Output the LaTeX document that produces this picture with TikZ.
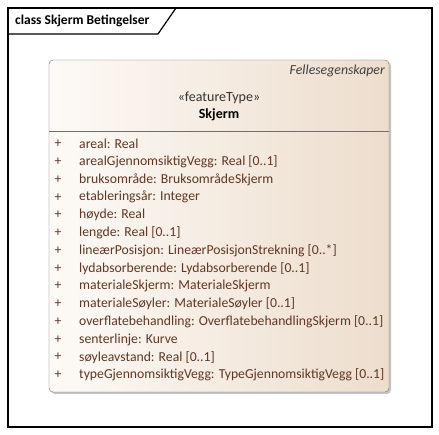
\documentclass[tikz,border=0pt]{standalone}
\usepackage{fontspec}
\setmainfont{Carlito}
\usetikzlibrary{positioning}
\tikzset{attr/.style = {anchor=west, inner sep=0, text=fbrown, font=\fontsize{13.7}{15}\selectfont}}
\tikzset{plus/.style = {inner sep=0, text=fbrown, font=\fontsize{13.7}{15}\selectfont}}
\definecolor{fbrown}{RGB}{95,55,35}
\definecolor{fcream}{RGB}{253,250,246}
\definecolor{fbeige}{RGB}{237,221,205}
\definecolor{fgray}{RGB}{110,110,110}

\begin{document}
\begin{tikzpicture}[x=1pt, y=-1pt]
      \useasboundingbox (0,0) rectangle (439,435);
      \fill [white] (0,0) rectangle (439,435);

      % frame
      \draw [line width=1.2pt] (8,8) rectangle (432,427);
      \draw [line width=1.2pt] (8,34) -- (158,34) -- (176,8);
      \node [anchor=west, inner sep=0, font=\bfseries\fontsize{13.5}{15}\selectfont] (title) at (15,21) {class Skjerm Betingelser};

      % class box
      \fill [gray!45, rounded corners=4pt] (51,62) rectangle (391,394);
      \shade [left color=fcream, right color=fbeige, draw=fgray, rounded corners=4pt] (49,60) rectangle (389,392);
      \draw [fgray] (49,131) -- (389,131);

      \node [anchor=east, inner sep=0, text=black!75, font=\itshape\fontsize{13.8}{15}\selectfont] (parent) at (385,71) {Fellesegenskaper};
      \node [inner sep=0, text=black!80, font=\fontsize{14}{15}\selectfont] (stereo) at (219,98) {«featureType»};
      \node [inner sep=0, font=\bfseries\fontsize{14}{15}\selectfont, below=4pt of stereo] (name) {Skjerm};

      \foreach \t [count=\i] in {
          areal: Real,
          arealGjennomsiktigVegg: Real [0..1],
          bruksområde: BruksområdeSkjerm,
          etableringsår: Integer,
          høyde: Real,
          lengde: Real [0..1],
          lineærPosisjon: LineærPosisjonStrekning [0..*],
          lydabsorberende: Lydabsorberende [0..1],
          materialeSkjerm: MaterialeSkjerm,
          materialeSøyler: MaterialeSøyler [0..1],
          overflatebehandling: OverflatebehandlingSkjerm [0..1],
          senterlinje: Kurve,
          søyleavstand: Real [0..1],
          typeGjennomsiktigVegg: TypeGjennomsiktigVegg [0..1]} {
        \node [plus] (p\i) at (58,126.2+17.77*\i) {+};
        \node [attr] (a\i) at (79,126.2+17.77*\i) {\t};
      }
    \end{tikzpicture}
\end{document}
